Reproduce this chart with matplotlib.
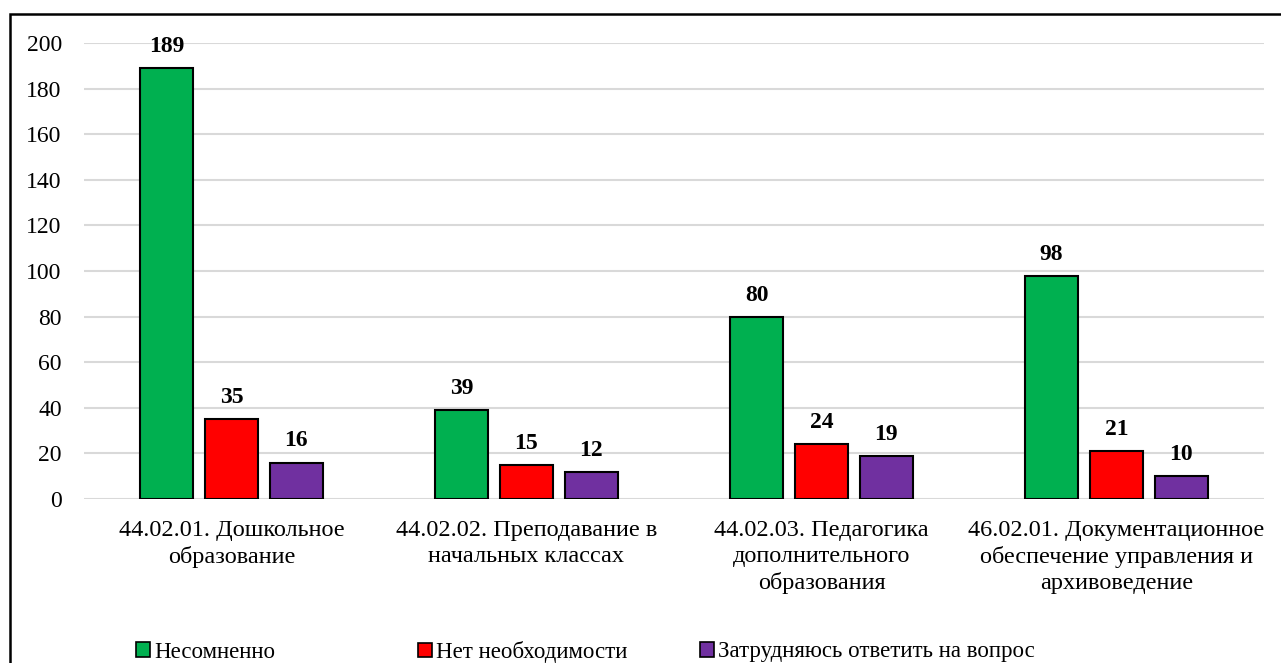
import matplotlib.pyplot as plt
from matplotlib.patches import Patch, Rectangle
import numpy as np

plt.rcParams['font.family'] = ['Liberation Serif', 'DejaVu Serif']

categories = ['44.02.01. Дошкольное\nобразование',
              '44.02.02. Преподавание в\nначальных классах',
              '44.02.03. Педагогика\nдополнительного\nобразования',
              '46.02.01. Документационное\nобеспечение управления и\nархивоведение']
series_names = ['Несомненно', 'Нет необходимости', 'Затрудняюсь ответить на вопрос']
undoubtedly = [189, 39, 80, 98]
no_need = [35, 15, 24, 21]
hard_to_say = [16, 12, 19, 10]
colors = ['#00B050', '#FF0000', '#7030A0']

fig = plt.figure(figsize=(12.81, 6.63), dpi=100)
ax = fig.add_axes([84/1281, 1 - 499/663, 1180/1281, 456/663])

x = np.arange(len(categories))
width = 0.18
step = 0.22
for i, (vals, name, c) in enumerate(zip([undoubtedly, no_need, hard_to_say], series_names, colors)):
    pos = x + (i - 1) * step
    ax.bar(pos, vals, width, color=c, edgecolor='black', linewidth=1.5, zorder=3, label=name)
    for px, v in zip(pos, vals):
        ax.annotate(str(v), (px, v), xytext=(0, 15.5), textcoords='offset points',
                    ha='center', va='center', fontsize=17, fontweight='bold',
                    annotation_clip=False)

ax.set_xlim(-0.5, len(categories) - 0.5)
ax.set_ylim(0, 200)
ax.set_yticks(range(0, 201, 20))
ax.set_xticks(x)
ax.set_xticklabels(categories, fontsize=17.5, linespacing=1.3)
ax.tick_params(axis='y', labelsize=17, length=0, pad=16)
ax.tick_params(axis='x', length=0, pad=15)
ax.grid(axis='y', color='#d9d9d9', linewidth=1.5, zorder=0)
for s in ax.spines.values():
    s.set_visible(False)

# legend entries placed at fixed positions like the original
starts = [136, 418, 700]
for name, c, sx in zip(series_names, colors, starts):
    fig.legend(handles=[Patch(facecolor=c, edgecolor='black', linewidth=1.2)], labels=[name],
               loc='center left', bbox_to_anchor=(sx/1281, 1 - 652/663), frameon=False,
               fontsize=16.5, handlelength=0.6, handleheight=0.6, handletextpad=0.2,
               borderpad=0, borderaxespad=0)

fig.patches.append(Rectangle((10/1281, -0.1), 1.2, 0.1 + 1 - 14/663, transform=fig.transFigure,
                             fill=False, edgecolor='black', linewidth=1.8))

fig.savefig('out.png', dpi=100)
